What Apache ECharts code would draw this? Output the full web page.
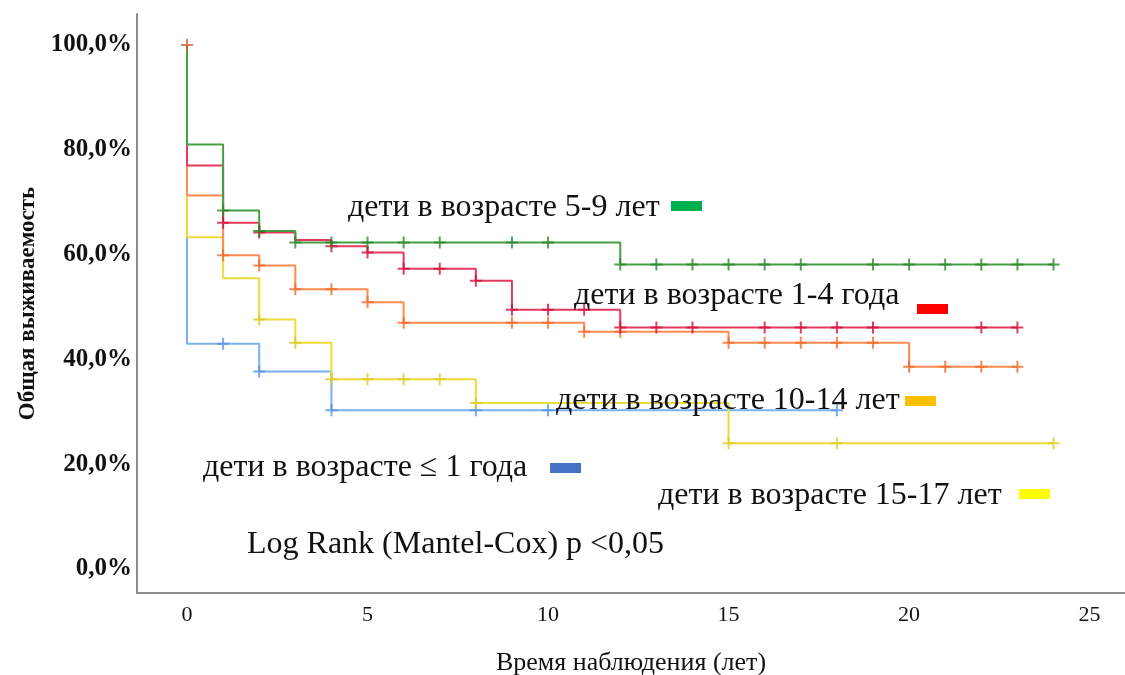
<!DOCTYPE html>
<html>
<head>
<meta charset="utf-8">
<script src="https://cdn.jsdelivr.net/npm/echarts@6/dist/echarts.min.js"></script>
<style>
html,body{margin:0;padding:0;background:#fff;}
#chart{width:1125px;height:675px;}
</style>
</head>
<body>
<div id="chart"></div>
<script>
// ---- data ----
const xTickLabels = [0, 5, 10, 15, 20, 25];
const yTickLabels = [0, 20, 40, 60, 80, 100];

const groupNames = ['дети в возрасте ≤ 1 года', 'дети в возрасте 15-17 лет', 'дети в возрасте 10-14 лет', 'дети в возрасте 1-4 года', 'дети в возрасте 5-9 лет'];

// each group: step times, survival (%) after the step, last follow-up time, censored times
const infantTimes = [0, 2, 4];
const infantSurv = [43.0, 37.7, 30.3];
const infantEnd = 18;
const infantCensor = [1, 2, 4, 8, 10, 18];

const teenTimes = [0, 1, 2, 3, 4, 8, 15];
const teenSurv = [63.3, 55.5, 47.6, 43.2, 36.2, 31.7, 24.0];
const teenEnd = 24;
const teenCensor = [2, 3, 4, 5, 6, 7, 8, 15, 18, 24];

const olderTimes = [0, 1, 2, 3, 5, 6, 11, 15, 20];
const olderSurv = [71.3, 59.9, 57.9, 53.4, 50.9, 47.0, 45.3, 43.2, 38.6];
const olderEnd = 23;
const olderCensor = [1, 2, 3, 4, 5, 6, 9, 10, 11, 12, 15, 16, 17, 18, 19, 20, 21, 22, 23];

const toddlerTimes = [0, 1, 2, 3, 4, 5, 6, 8, 9, 12];
const toddlerSurv = [77.0, 66.1, 64.2, 62.8, 61.6, 60.4, 57.3, 55.0, 49.5, 46.1];
const toddlerEnd = 23;
const toddlerCensor = [1, 2, 4, 5, 6, 7, 8, 9, 10, 11, 12, 13, 14, 16, 17, 18, 19, 22, 23];

const childTimes = [0, 1, 2, 3, 12];
const childSurv = [81.0, 68.4, 64.5, 62.3, 58.1];
const childEnd = 24;
const childCensor = [1, 2, 3, 4, 5, 6, 7, 9, 10, 12, 13, 14, 15, 16, 17, 19, 20, 21, 22, 23, 24];

const startPoint = [0, 100];

// ---- styling ----
const lineColors = ['#7cb0f0', '#ecdc3a', '#ff8b52', '#e23a60', '#43a043'];
const markColors = ['#5a92e4', '#dccb20', '#f36a2a', '#d4103c', '#2b8a2b'];
const swatchColors = ['#4472c4', '#ffff00', '#ffc000', '#ff0000', '#00b050'];
const serif = '"Liberation Serif", "Times New Roman", serif';
const plusPath = 'path://M5,0H7V5H12V7H7V12H5V7H0V5H5Z';

function stepData(times, surv, end) {
  const d = [[0, 100]];
  times.forEach((t, i) => d.push([t, surv[i]]));
  d.push([end, surv[surv.length - 1]]);
  return d;
}
function survAt(times, surv, t) {
  let v = 100;
  times.forEach((tt, i) => { if (tt <= t) v = surv[i]; });
  return v;
}

const groups = [
  [infantTimes, infantSurv, infantEnd, infantCensor],
  [teenTimes, teenSurv, teenEnd, teenCensor],
  [olderTimes, olderSurv, olderEnd, olderCensor],
  [toddlerTimes, toddlerSurv, toddlerEnd, toddlerCensor],
  [childTimes, childSurv, childEnd, childCensor]
];

const series = [];
groups.forEach((g, i) => {
  series.push({
    name: groupNames[i], type: 'line', step: 'end', showSymbol: false, silent: true,
    data: stepData(g[0], g[1], g[2]),
    lineStyle: { color: lineColors[i], width: 2 }, z: 2 + i
  });
  series.push({
    name: groupNames[i] + ' censor', type: 'scatter', symbol: plusPath, symbolSize: 12, silent: true,
    data: g[3].map(t => [t, survAt(g[0], g[1], t)]),
    itemStyle: { color: markColors[i] }, z: 10 + i
  });
});
series.push({
  type: 'scatter', symbol: plusPath, symbolSize: 12, silent: true,
  data: [startPoint], itemStyle: { color: '#c8642a' }, z: 20
});

// ---- annotations ----
const labelDefs = [
  { text: groupNames[4], x: 348, y: 192, sw: [671, 201] },
  { text: groupNames[3], x: 574, y: 280, sw: [917, 304] },
  { text: groupNames[2], x: 556, y: 385, sw: [905, 396] },
  { text: groupNames[0], x: 203, y: 452, sw: [550, 463] },
  { text: groupNames[1], x: 658, y: 480, sw: [1019, 489] }
];
const swIdx = [4, 3, 2, 0, 1];
const graphics = [];
labelDefs.forEach((l, k) => {
  graphics.push({ type: 'text', left: l.x, top: l.y, silent: true, z: 100,
    style: { text: l.text, font: '32px ' + serif, fill: '#111' } });
  graphics.push({ type: 'rect', shape: { x: l.sw[0], y: l.sw[1], width: 31, height: 10 }, silent: true, z: 100,
    style: { fill: swatchColors[swIdx[k]] } });
});
graphics.push({ type: 'text', left: 247, top: 529, silent: true, z: 100,
  style: { text: 'Log Rank (Mantel-Cox) p <0,05', font: '32px ' + serif, fill: '#111' } });

const chart = echarts.init(document.getElementById('chart'), null, { renderer: 'canvas' });
chart.setOption({
  animation: false,
  backgroundColor: '#ffffff',
  grid: { left: 137, right: 0, top: 14, bottom: 82, containLabel: false, outerBoundsMode: 'none' },
  xAxis: {
    type: 'value', min: -1.385, max: 25.98,
    name: 'Время наблюдения (лет)', nameLocation: 'middle', nameGap: 57,
    nameTextStyle: { fontFamily: serif, fontSize: 26, color: '#111' },
    axisLine: { show: true, onZero: false, lineStyle: { color: '#8c8c8c', width: 2 } },
    axisTick: { show: false },
    splitLine: { show: false },
    axisLabel: { customValues: xTickLabels, fontFamily: serif, fontSize: 22, color: '#111', margin: 11 }
  },
  yAxis: {
    type: 'value', min: -4.58, max: 105.92,
    name: 'Общая выживаемость', nameLocation: 'middle', nameGap: 97, nameRotate: 90,
    nameTextStyle: { fontFamily: serif, fontSize: 23, fontWeight: 'bold', color: '#111' },
    axisLine: { show: true, onZero: false, lineStyle: { color: '#8c8c8c', width: 2 } },
    axisTick: { show: false },
    splitLine: { show: false },
    axisLabel: { customValues: yTickLabels, fontFamily: serif, fontSize: 25, fontWeight: 'bold', color: '#111', margin: 5,
      formatter: v => v.toFixed(1).replace('.', ',') + '%' }
  },
  series: series,
  graphic: graphics
});
</script>
</body>
</html>
